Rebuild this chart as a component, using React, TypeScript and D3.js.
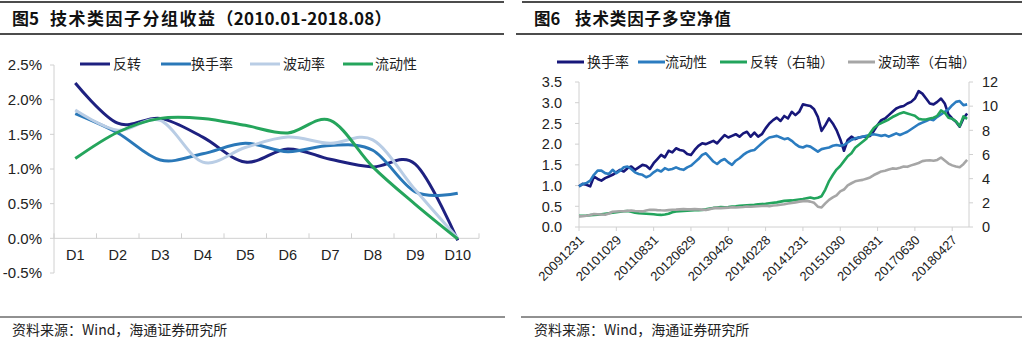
import React from 'react';
import * as d3 from 'd3';

// ---------- Figure 5 data ----------
const groups = ['D1', 'D2', 'D3', 'D4', 'D5', 'D6', 'D7', 'D8', 'D9', 'D10'];
const grpReversal = [2.24, 1.66, 1.73, 1.46, 1.10, 1.29, 1.14, 1.03, 1.07, -0.03];
const grpTurnover = [1.80, 1.52, 1.13, 1.22, 1.37, 1.25, 1.34, 1.27, 0.67, 0.65];
const grpVolatility = [1.85, 1.56, 1.70, 1.10, 1.31, 1.46, 1.37, 1.42, 0.70, 0.0];
const grpLiquidity = [1.15, 1.53, 1.73, 1.73, 1.63, 1.52, 1.70, 1.03, 0.49, -0.01];
const grpTicks = [-0.5, 0, 0.5, 1.0, 1.5, 2.0, 2.5];

// ---------- Figure 6 data (monthly, 2009-12 .. 2018-08) ----------
const tickDates = ['20091231', '20101029', '20110831', '20120629', '20130426', '20140228', '20141231', '20151030', '20160831', '20170630', '20180427'];
const tickIndex = [0, 10, 20, 30, 40, 50, 60, 70, 80, 90, 100];
const navLeftTicks = [0, 0.5, 1.0, 1.5, 2.0, 2.5, 3.0, 3.5];
const navRightTicks = [0, 2, 4, 6, 8, 10, 12];

const navTurnover = [
  0.98, 1.04, 1.02, 0.98, 1.22,
  1.16, 1.12, 1.18, 1.22, 1.26,
  1.32, 1.38, 1.34, 1.42, 1.46,
  1.38, 1.44, 1.50, 1.48, 1.40,
  1.54, 1.64, 1.74, 1.68, 1.84,
  1.80, 1.90, 1.86, 1.84, 1.76,
  1.74, 1.86, 1.96, 2.02, 2.00,
  2.04, 2.08, 2.02, 2.12, 2.22,
  2.16, 2.20, 2.24, 2.18, 2.26,
  2.30, 2.18, 2.28, 2.18, 2.24,
  2.38, 2.50, 2.58, 2.64, 2.56,
  2.68, 2.62, 2.78, 2.70, 2.78,
  2.96, 2.94, 2.92, 2.84, 2.66,
  2.32, 2.46, 2.62, 2.50, 2.34,
  2.12, 1.84, 2.10, 2.18, 2.12,
  2.16, 2.18, 2.18, 2.20, 2.32,
  2.46, 2.58, 2.62, 2.70, 2.78,
  2.86, 2.90, 2.92, 2.98, 3.02,
  3.10, 3.28, 3.22, 3.10, 2.98,
  2.96, 3.02, 3.10, 2.98, 2.72,
  2.62, 2.54, 2.42, 2.62, 2.74,
];
const navLiquidity = [
  0.98, 1.04, 1.06, 1.12, 1.26,
  1.36, 1.36, 1.30, 1.28, 1.38,
  1.30, 1.36, 1.44, 1.46, 1.40,
  1.32, 1.28, 1.26, 1.20, 1.24,
  1.32, 1.38, 1.34, 1.42, 1.38,
  1.40, 1.44, 1.40, 1.38, 1.44,
  1.48, 1.56, 1.64, 1.74, 1.78,
  1.68, 1.58, 1.52, 1.60, 1.64,
  1.56, 1.50, 1.60, 1.66, 1.74,
  1.80, 1.84, 1.86, 1.94, 2.02,
  2.10, 2.16, 2.18, 2.20, 2.16,
  2.12, 2.14, 2.08, 2.00, 1.94,
  1.92, 1.96, 1.94, 1.88, 1.82,
  1.88, 1.90, 1.92, 1.96, 1.98,
  1.96, 1.98, 2.04, 2.10, 2.14,
  2.16, 2.18, 2.20, 2.22, 2.24,
  2.22, 2.20, 2.22, 2.18, 2.22,
  2.26, 2.22, 2.26, 2.30, 2.36,
  2.42, 2.48, 2.52, 2.56, 2.60,
  2.58, 2.66, 2.72, 2.78, 2.84,
  2.94, 3.02, 3.04, 2.94, 2.96,
];
const navReversal = [
  0.92, 0.93, 0.95, 0.98, 1.00,
  1.02, 1.06, 1.10, 1.14, 1.18,
  1.22, 1.26, 1.30, 1.32, 1.26,
  1.18, 1.14, 1.12, 1.10, 1.08,
  1.05, 1.02, 1.00, 1.04, 1.10,
  1.22, 1.28, 1.30, 1.32, 1.34,
  1.36, 1.38, 1.40, 1.42, 1.46,
  1.52, 1.58, 1.62, 1.66, 1.64,
  1.66, 1.70, 1.72, 1.76, 1.78,
  1.80, 1.82, 1.84, 1.88, 1.90,
  1.92, 1.96, 2.00, 2.04, 2.10,
  2.16, 2.18, 2.20, 2.24, 2.28,
  2.32, 2.38, 2.44, 2.36, 2.42,
  2.55, 3.10, 3.80, 4.30, 4.75,
  5.05, 5.45, 5.85, 6.10, 6.55,
  6.80, 7.05, 7.30, 7.75, 8.20,
  8.45, 8.60, 8.75, 8.90, 9.10,
  9.25, 9.40, 9.50, 9.40, 9.30,
  9.20, 8.95, 8.90, 8.90, 8.98,
  9.05, 9.20, 9.65, 9.45, 9.05,
  8.95, 8.75, 8.35, 9.15, 8.95,
];
const navVolatility = [
  0.88, 0.90, 0.93, 1.00, 1.08,
  1.06, 1.04, 1.02, 1.12, 1.26,
  1.28, 1.30, 1.30, 1.34, 1.37,
  1.32, 1.30, 1.29, 1.36, 1.42,
  1.43, 1.40, 1.38, 1.37, 1.40,
  1.43, 1.44, 1.46, 1.48, 1.46,
  1.46, 1.48, 1.46, 1.44, 1.40,
  1.48, 1.56, 1.58, 1.56, 1.58,
  1.60, 1.64, 1.62, 1.64, 1.66,
  1.70, 1.68, 1.70, 1.72, 1.74,
  1.76, 1.72, 1.78, 1.80, 1.84,
  1.88, 1.94, 1.98, 2.04, 2.10,
  2.14, 2.16, 2.10, 2.00, 1.68,
  1.62, 1.95, 2.25, 2.45, 2.62,
  2.95, 3.10, 3.45, 3.62, 3.78,
  3.85, 3.90, 4.00, 4.10, 4.30,
  4.45, 4.60, 4.65, 4.75, 4.85,
  4.82, 4.90, 5.00, 4.98, 5.10,
  5.20, 5.30, 5.45, 5.50, 5.52,
  5.48, 5.55, 5.75, 5.50, 5.25,
  5.10, 5.00, 4.95, 5.20, 5.55,
];

const NUM = '"Liberation Sans", Arial, "Noto Sans CJK SC", sans-serif';
const CJK = '"Noto Sans CJK SC", "Liberation Sans", sans-serif';
const AXIS = '#d0d0d0';

const C5 = { reversal: '#1e2180', turnover: '#2a78b8', volatility: '#b9cde5', liquidity: '#25a55c' };
const C6 = { turnover: '#17177a', liquidity: '#2b7cc0', reversal: '#22a45c', volatility: '#a6a6a6' };

export default function App() {
  // ---------- Figure 5 ----------
  const x5 = d3.scaleBand<string>().domain(groups).range([54, 479]);
  const y5 = d3.scaleLinear().domain([-0.5, 2.5]).range([273, 65]);
  const line5 = d3
    .line<number>()
    .x((_, i) => (x5(groups[i]) as number) + x5.bandwidth() / 2)
    .y((v) => y5(v))
    .curve(d3.curveCatmullRom.alpha(0));
  const series5 = [
    { name: '反转', vals: grpReversal, color: C5.reversal, lx: 80, tx: 113 },
    { name: '换手率', vals: grpTurnover, color: C5.turnover, lx: 161, tx: 191 },
    { name: '波动率', vals: grpVolatility, color: C5.volatility, lx: 250, tx: 283 },
    { name: '流动性', vals: grpLiquidity, color: C5.liquidity, lx: 343, tx: 375 },
  ];
  const bandEdges = [...groups.map((g) => x5(g) as number), 479];

  // ---------- Figure 6 ----------
  const x6 = d3.scaleLinear().domain([0, 104.5]).range([579, 969]);
  const y6L = d3.scaleLinear().domain([0, 3.5]).range([227, 82]);
  const y6R = d3.scaleLinear().domain([0, 12]).range([227, 82]);
  const lineL = d3.line<number>().x((_, i) => x6(i)).y((v) => y6L(v));
  const lineR = d3.line<number>().x((_, i) => x6(i)).y((v) => y6R(v));
  const series6 = [
    { name: '换手率', d: lineL(navTurnover), color: C6.turnover, lx: 557, tx: 587 },
    { name: '流动性', d: lineL(navLiquidity), color: C6.liquidity, lx: 638, tx: 665 },
    { name: '反转（右轴）', d: lineR(navReversal), color: C6.reversal, lx: 720, tx: 750 },
    { name: '波动率（右轴）', d: lineR(navVolatility), color: C6.volatility, lx: 848, tx: 878 },
  ];

  return (
    <svg
      width={1022}
      height={340}
      viewBox="0 0 1022 340"
      style={{ position: 'absolute', left: 0, top: 0, background: '#fff' }}
    >
      <rect x={0} y={0} width={1022} height={340} fill="#fff" />

      {/* ===== Titles ===== */}
      <line x1={0} x2={504} y1={2} y2={2} stroke="#111" strokeWidth={1.5} />
      <line x1={0} x2={504} y1={34} y2={34} stroke="#111" strokeWidth={1.5} />
      <line x1={522} x2={1022} y1={2} y2={2} stroke="#111" strokeWidth={1.5} />
      <line x1={516} x2={1022} y1={34} y2={34} stroke="#111" strokeWidth={1.5} />
      <text x={12} y={25} fontFamily={CJK} fontWeight="bold" fontSize={17} fill="#111">
        <tspan>图5</tspan>
        <tspan x={50} letterSpacing={1.5}>技术类因子分组收益</tspan>
        <tspan letterSpacing={0.2}>（2010.01-2018.08）</tspan>
      </text>
      <text x={534} y={25} fontFamily={CJK} fontWeight="bold" fontSize={16.5} fill="#111">
        <tspan>图6</tspan>
        <tspan x={575} letterSpacing={0.9}>技术类因子多空净值</tspan>
      </text>

      {/* ===== Figure 5 ===== */}
      <g>
        <line x1={54} x2={54} y1={65} y2={273} stroke={AXIS} />
        {grpTicks.map((t) => (
          <g key={t}>
            <line x1={50} x2={54} y1={y5(t)} y2={y5(t)} stroke={AXIS} />
            <text x={42} y={y5(t)} dy="0.36em" textAnchor="end" fontFamily={NUM} fontSize={15} fill="#222">
              {t.toFixed(1) + '%'}
            </text>
          </g>
        ))}
        <line x1={54} x2={479} y1={y5(0)} y2={y5(0)} stroke={AXIS} />
        {bandEdges.map((e, i) => (
          <line key={i} x1={e} x2={e} y1={y5(0) - 5} y2={y5(0)} stroke={AXIS} />
        ))}
        {groups.map((g) => (
          <text
            key={g}
            x={(x5(g) as number) + x5.bandwidth() / 2}
            y={260}
            textAnchor="middle"
            fontFamily={NUM}
            fontSize={14.5}
            fill="#222"
          >
            {g}
          </text>
        ))}
        {series5.map((s) => (
          <path key={s.name} d={line5(s.vals) || ''} fill="none" stroke={s.color} strokeWidth={3} strokeLinejoin="round" />
        ))}
        {series5.map((s) => (
          <g key={'lg' + s.name}>
            <line x1={s.lx} x2={s.lx + 30} y1={64} y2={64} stroke={s.color} strokeWidth={3} />
            <text x={s.tx} y={64} dy="0.36em" fontFamily={CJK} fontSize={14} fill="#222">
              {s.name}
            </text>
          </g>
        ))}
      </g>

      {/* ===== Figure 6 ===== */}
      <g>
        <line x1={579} x2={579} y1={82} y2={227} stroke={AXIS} />
        <line x1={969} x2={969} y1={82} y2={227} stroke={AXIS} />
        <line x1={579} x2={969} y1={227} y2={227} stroke={AXIS} />
        {navLeftTicks.map((t) => (
          <g key={'l' + t}>
            <line x1={575} x2={579} y1={y6L(t)} y2={y6L(t)} stroke={AXIS} />
            <text x={562} y={y6L(t)} dy="0.36em" textAnchor="end" fontFamily={NUM} fontSize={14.5} fill="#222">
              {t.toFixed(1)}
            </text>
          </g>
        ))}
        {navRightTicks.map((t) => (
          <g key={'r' + t}>
            <line x1={969} x2={973} y1={y6R(t)} y2={y6R(t)} stroke={AXIS} />
            <text x={982} y={y6R(t)} dy="0.36em" textAnchor="start" fontFamily={NUM} fontSize={14.5} fill="#222">
              {String(t)}
            </text>
          </g>
        ))}
        {tickIndex.map((ti, k) => (
          <g key={'x' + ti}>
            <line x1={x6(ti)} x2={x6(ti)} y1={227} y2={231} stroke={AXIS} />
            <text
              transform={`translate(${x6(ti) + 3},${238}) rotate(-45)`}
              textAnchor="end"
              dy="0.3em"
              fontFamily={NUM}
              fontSize={13}
              fill="#222"
            >
              {tickDates[k]}
            </text>
          </g>
        ))}
        {series6.map((s) => (
          <path key={s.name} d={s.d || ''} fill="none" stroke={s.color} strokeWidth={2.6} strokeLinejoin="round" />
        ))}
        {series6.map((s) => (
          <g key={'lg6' + s.name}>
            <line x1={s.lx} x2={s.lx + 27} y1={62} y2={62} stroke={s.color} strokeWidth={3} />
            <text x={s.tx} y={62} dy="0.36em" fontFamily={CJK} fontSize={14} fill="#222">
              {s.name}
            </text>
          </g>
        ))}
      </g>

      {/* ===== Footers ===== */}
      <line x1={0} x2={505} y1={317} y2={317} stroke="#222" strokeWidth={1} />
      <line x1={521} x2={1022} y1={317} y2={317} stroke="#222" strokeWidth={1} />
      <text x={12} y={335} fontFamily={CJK} fontSize={14} fill="#222">
        资料来源：Wind，海通证券研究所
      </text>
      <text x={534} y={335} fontFamily={CJK} fontSize={14} fill="#222">
        资料来源：Wind，海通证券研究所
      </text>
    </svg>
  );
}
